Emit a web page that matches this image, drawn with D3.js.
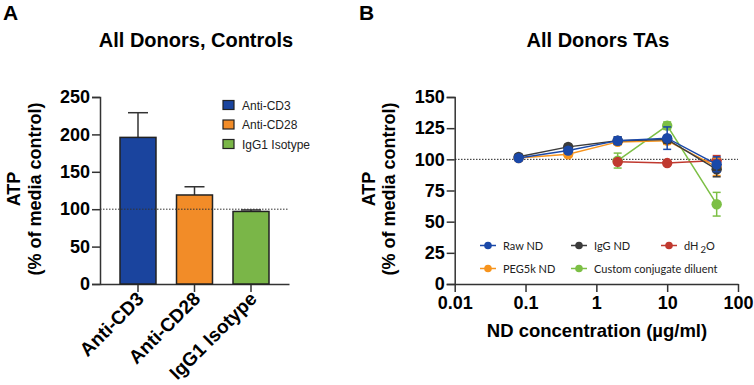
<!DOCTYPE html>
<html><head><meta charset="utf-8">
<script src="https://cdn.jsdelivr.net/npm/d3@7"></script>
<style>
body{margin:0;background:#fff;}
svg{font-family:"Liberation Sans",Arial,sans-serif;}
</style></head>
<body>
<svg id="c" width="754" height="385"></svg>
<script>
// ---- Panel A data ----
const categoriesA = ["Anti-CD3", "Anti-CD28", "IgG1 Isotype"];
const meansA = [196, 119, 97];
const errorsA = [33, 11, 2];
const colorsA = ["#1a449e", "#f28c28", "#7ab648"];
const yTicksA = [0, 50, 100, 150, 200, 250];

// ---- Panel B data ----
const concB = [0.08, 0.4, 2, 10, 50];
const seriesNames = ["Raw ND", "IgG ND", "dH2O", "PEG5k ND", "Custom conjugate diluent"];
const rawND = [101, 107, 115, 117, 96];
const rawNDErr = [2, 2, 3, 9, 6];
const iggND = [102, 110, 115, 116, 92];
const iggNDErr = [2, 2, 3, 3, 6];
const dH2O = [null, null, 98, 97, 99];
const dH2OErr = [0, 0, 1, 1, 4];
const peg5kND = [101, 104, 114, 115, 94];
const peg5kNDErr = [2, 2, 2, 3, 7];
const customDil = [null, null, 99, 127, 64];
const customDilErr = [0, 0, 6, 3, 9.5];
const xTicksB = [0.01, 0.1, 1, 10, 100];
const xTickLabelsB = ["0.01", "0.1", "1", "10", "100"];
const yTicksB = [0, 25, 50, 75, 100, 125, 150];

const svg = d3.select("#c");
const axisColor = "#333";

// ================= Panel A =================
const gA = svg.append("g");
const xA = d3.scaleBand().domain(categoriesA).range([100, 289]).paddingInner(0.363).paddingOuter(0.354);
const yA = d3.scaleLinear().domain([0, 250]).range([284, 97]);

gA.append("text").attr("x", 3).attr("y", 20).attr("font-size", 21).attr("font-weight", "bold").text("A");
gA.append("text").attr("x", 196).attr("y", 47).attr("text-anchor", "middle").attr("font-size", 20).attr("font-weight", "bold").text("All Donors, Controls");

// y axis
const yAxA = gA.append("g").attr("transform", "translate(100,0)")
  .call(d3.axisLeft(yA).tickValues(yTicksA).tickSize(8).tickPadding(2));
yAxA.select(".domain").attr("stroke", axisColor).attr("stroke-width", 1.5);
yAxA.selectAll(".tick line").attr("stroke", axisColor).attr("stroke-width", 1.5);
yAxA.selectAll(".tick text").attr("font-size", 18).attr("font-weight", "bold").attr("fill", "#000").attr("font-family", "Liberation Sans, Arial, sans-serif");

// x axis
const xAxA = gA.append("g").attr("transform", "translate(0,284)")
  .call(d3.axisBottom(xA).tickSize(8).tickSizeOuter(0).tickFormat(""));
xAxA.select(".domain").attr("stroke", axisColor).attr("stroke-width", 1.5);
xAxA.selectAll(".tick line").attr("stroke", axisColor).attr("stroke-width", 1.5);

categoriesA.forEach((c) => {
  const cx = xA(c) + xA.bandwidth() / 2;
  gA.append("text").attr("transform", `translate(${cx + 7},${300}) rotate(-45)`)
    .attr("text-anchor", "end").attr("font-size", 19).attr("font-weight", "bold").text(c);
});

// y title
const ytA = gA.append("text").attr("transform", "translate(0,189) rotate(-90)").attr("text-anchor", "middle")
  .attr("font-size", 18).attr("font-weight", "bold");
ytA.append("tspan").attr("x", 0).attr("y", 20).text("ATP");
ytA.append("tspan").attr("x", 0).attr("y", 41).text("(% of media control)");

// error bars A
categoriesA.forEach((c, i) => {
  const cx = xA(c) + xA.bandwidth() / 2;
  gA.append("line").attr("x1", cx).attr("x2", cx).attr("y1", yA(meansA[i])).attr("y2", yA(meansA[i] + errorsA[i]))
    .attr("stroke", axisColor).attr("stroke-width", 1.5);
  gA.append("line").attr("x1", cx - 10).attr("x2", cx + 10).attr("y1", yA(meansA[i] + errorsA[i])).attr("y2", yA(meansA[i] + errorsA[i]))
    .attr("stroke", axisColor).attr("stroke-width", 1.5);
});
// bars
gA.selectAll("rect.bar").data(categoriesA).enter().append("rect")
  .attr("x", d => xA(d)).attr("width", xA.bandwidth())
  .attr("y", (d, i) => yA(meansA[i])).attr("height", (d, i) => yA(0) - yA(meansA[i]))
  .attr("fill", (d, i) => colorsA[i]).attr("stroke", "#222").attr("stroke-width", 1.5);
// reference line
gA.append("line").attr("x1", 100).attr("x2", 288).attr("y1", yA(100)).attr("y2", yA(100))
  .attr("stroke", "#333").attr("stroke-width", 1).attr("stroke-dasharray", "1.5,1.5");

// legend A
categoriesA.forEach((c, i) => {
  const ly = 105 + i * 19.5;
  gA.append("rect").attr("x", 223).attr("y", ly - 4.5).attr("width", 11).attr("height", 9)
    .attr("fill", colorsA[i]).attr("stroke", "#222").attr("stroke-width", 1.2);
  gA.append("text").attr("x", 242).attr("y", ly + 4.5).attr("font-size", 12).attr("fill", "#222").text(c);
});

// ================= Panel B =================
const gB = svg.append("g");
const xB = d3.scaleLog().domain([0.01, 100]).range([454.7, 738]);
const yB = d3.scaleLinear().domain([0, 150]).range([284, 97]);

gB.append("text").attr("x", 359).attr("y", 20).attr("font-size", 21).attr("font-weight", "bold").text("B");
gB.append("text").attr("x", 598).attr("y", 47).attr("text-anchor", "middle").attr("font-size", 20).attr("font-weight", "bold").text("All Donors TAs");

const yAxB = gB.append("g").attr("transform", "translate(454.7,0)")
  .call(d3.axisLeft(yB).tickValues(yTicksB).tickSize(8).tickPadding(2));
yAxB.select(".domain").attr("stroke", axisColor).attr("stroke-width", 1.5);
yAxB.selectAll(".tick line").attr("stroke", axisColor).attr("stroke-width", 1.5);
yAxB.selectAll(".tick text").attr("font-size", 18).attr("font-weight", "bold").attr("fill", "#000");

const xAxB = gB.append("g").attr("transform", "translate(0,284)")
  .call(d3.axisBottom(xB).tickValues(xTicksB).tickFormat((d, i) => xTickLabelsB[i]).tickSize(8).tickSizeOuter(0).tickPadding(4));
xAxB.select(".domain").attr("stroke", axisColor).attr("stroke-width", 1.5);
xAxB.selectAll(".tick line").attr("stroke", axisColor).attr("stroke-width", 1.5);
xAxB.selectAll(".tick text").attr("font-size", 18).attr("font-weight", "bold").attr("fill", "#000");

gB.append("text").attr("x", 597).attr("y", 337).attr("text-anchor", "middle").attr("font-size", 18.5).attr("font-weight", "bold").text("ND concentration (µg/ml)");

const ytB = gB.append("text").attr("transform", "translate(355,189) rotate(-90)").attr("text-anchor", "middle")
  .attr("font-size", 18).attr("font-weight", "bold");
ytB.append("tspan").attr("x", 0).attr("y", 20).text("ATP");
ytB.append("tspan").attr("x", 0).attr("y", 40).text("(% of media control)");

// reference line
gB.append("line").attr("x1", 455).attr("x2", 738).attr("y1", yB(100)).attr("y2", yB(100))
  .attr("stroke", "#222").attr("stroke-width", 1).attr("stroke-dasharray", "1.5,1.5");

const seriesB = [
  { name: "Custom conjugate diluent", vals: customDil, errs: customDilErr, color: "#7cbf45" },
  { name: "dH2O", vals: dH2O, errs: dH2OErr, color: "#c0392f" },
  { name: "PEG5k ND", vals: peg5kND, errs: peg5kNDErr, color: "#f7941d" },
  { name: "IgG ND", vals: iggND, errs: iggNDErr, color: "#3b3b3b" },
  { name: "Raw ND", vals: rawND, errs: rawNDErr, color: "#1a48a8" }
];
const line = d3.line().defined(d => d.v != null).x(d => xB(d.x)).y(d => yB(d.v));
seriesB.forEach(s => {
  const pts = concB.map((x, i) => ({ x: x, v: s.vals[i], e: s.errs[i] }));
  const g = gB.append("g");
  g.append("path").datum(pts).attr("d", line).attr("fill", "none").attr("stroke", s.color).attr("stroke-width", 1.5);
  pts.filter(p => p.v != null).forEach(p => {
    const cx = xB(p.x);
    if (p.e > 0) {
      g.append("line").attr("x1", cx).attr("x2", cx).attr("y1", yB(p.v - p.e)).attr("y2", yB(p.v + p.e)).attr("stroke", s.color).attr("stroke-width", 1.5);
      [p.v - p.e, p.v + p.e].forEach(v => g.append("line").attr("x1", cx - 4).attr("x2", cx + 4).attr("y1", yB(v)).attr("y2", yB(v)).attr("stroke", s.color).attr("stroke-width", 1.5));
    }
    g.append("circle").attr("cx", cx).attr("cy", yB(p.v)).attr("r", 5.2).attr("fill", s.color);
  });
});

// legend B
const legB = [
  { name: "Raw ND", color: "#1a48a8", x: 480, y: 245.5 },
  { name: "IgG ND", color: "#3b3b3b", x: 571, y: 245.5 },
  { name: "dH2O", color: "#c0392f", x: 661, y: 245.5 },
  { name: "PEG5k ND", color: "#f7941d", x: 480, y: 268.5 },
  { name: "Custom conjugate diluent", color: "#7cbf45", x: 571, y: 268.5 }
];
legB.forEach(l => {
  gB.append("line").attr("x1", l.x).attr("x2", l.x + 16).attr("y1", l.y).attr("y2", l.y).attr("stroke", l.color).attr("stroke-width", 1.5);
  gB.append("circle").attr("cx", l.x + 8).attr("cy", l.y).attr("r", 3.8).attr("fill", l.color);
  const t = gB.append("text").attr("x", l.x + 23).attr("y", l.y + 4).attr("font-size", 11).attr("fill", "#222")
    .attr("font-family", "Lato, 'Open Sans', sans-serif");
  if (l.name === "dH2O") {
    t.append("tspan").text("dH");
    t.append("tspan").attr("font-size", 9.5).attr("dy", 3).attr("dx", 2).text("2");
    t.append("tspan").attr("dy", -3).text("O");
  } else {
    t.text(l.name);
  }
});
</script>
</body></html>
